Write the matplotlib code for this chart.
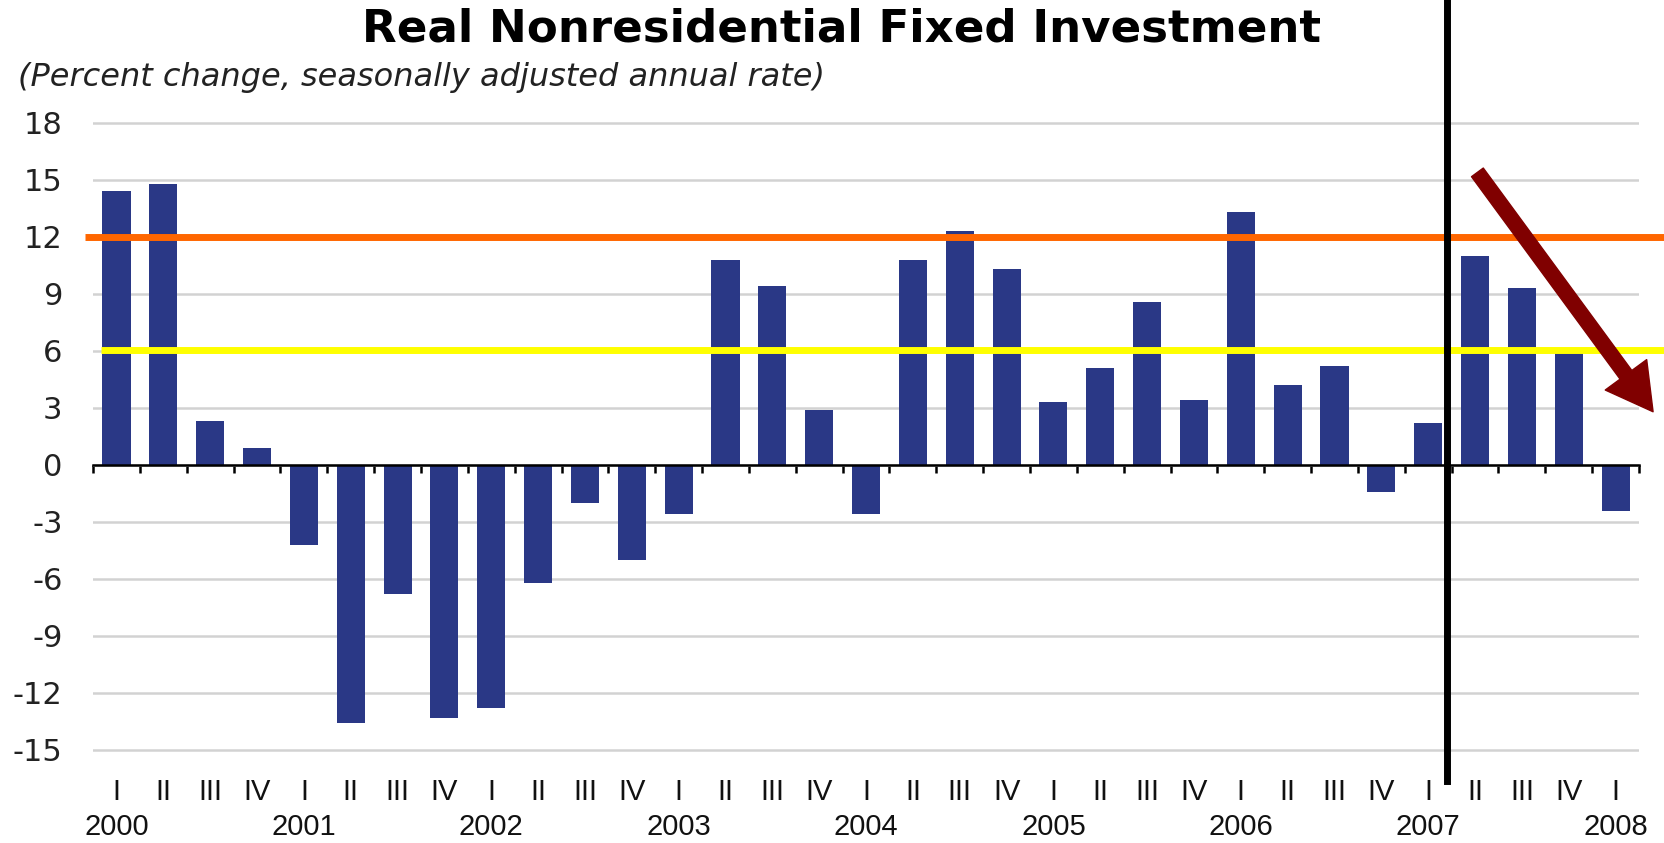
"""Real Nonresidential Fixed Investment, quarterly % change (SAAR), 2000-2008."""

import matplotlib
matplotlib.use("Agg")
import matplotlib.pyplot as plt
from matplotlib.transforms import blended_transform_factory

# quarterly values, 2000 Q1 .. 2008 Q1
quarters = ["I", "II", "III", "IV"] * 8 + ["I"]
years = ["2000", "2001", "2002", "2003", "2004", "2005", "2006", "2007", "2008"]
growth = [14.4, 14.8, 2.3, 0.9,
          -4.2, -13.6, -6.8, -13.3,
          -12.8, -6.2, -2.0, -5.0,
          -2.6, 10.8, 9.4, 2.9,
          -2.6, 10.8, 12.3, 10.3,
          3.3, 5.1, 8.6, 3.4,
          13.3, 4.2, 5.2, -1.4,
          2.2, 11.0, 9.3, 6.0,
          -2.4]

UPPER_REF = 12.0      # orange reference level
LOWER_REF = 6.05      # yellow reference level
BREAK_X = 28.4        # black divider after 2007 Q1
TREND_START = (29.05, 15.4)
TREND_END = (32.8, 2.8)

BAR_COLOR = "#2a3886"
NARROW = ["Liberation Sans Narrow", "Liberation Sans", "DejaVu Sans"]

plt.rcParams["axes.unicode_minus"] = False

fig = plt.figure(figsize=(16.65, 8.43), dpi=100)
ax = fig.add_axes([0.0559, 0.0991, 0.9285, 0.7663])

x = list(range(len(growth)))
ax.bar(x, growth, width=0.6, color=BAR_COLOR, zorder=2)

ax.set_xlim(-0.5, len(growth) - 0.5)
ax.set_ylim(-15.5, 18.5)

# y axis: labels only, light grid
ax.set_yticks(range(-15, 19, 3))
ax.tick_params(axis="y", length=0, pad=22, labelsize=22, labelcolor="#222222")
ax.grid(axis="y", color="#d2d2d2", lw=1.8)
ax.set_axisbelow(True)

for side in ("left", "right", "top"):
    ax.spines[side].set_visible(False)
ax.spines["bottom"].set_position(("data", 0))
ax.spines["bottom"].set_linewidth(1.8)
ax.spines["bottom"].set_zorder(3)
ax.set_xticks([i - 0.5 for i in range(len(growth) + 1)])
ax.set_xticklabels([])
ax.tick_params(axis="x", direction="out", length=6, width=1.8)

# category labels under the plot
trans = blended_transform_factory(ax.transData, fig.transFigure)
for i, q in enumerate(quarters):
    ax.text(i, 0.060, q, transform=trans, ha="center", va="center",
            fontsize=21, family=NARROW, color="#111111")
for k, yr in enumerate(years):
    ax.text(4 * k, 0.019, yr, transform=trans, ha="center", va="center",
            fontsize=21, family=NARROW, color="#111111")

# reference levels
ax.plot([-0.67, 33.1], [UPPER_REF, UPPER_REF], color="#ff6600", lw=5,
        solid_capstyle="butt", clip_on=False, zorder=4)
ax.plot([-0.33, 33.1], [LOWER_REF, LOWER_REF], color="#ffff00", lw=5,
        solid_capstyle="butt", clip_on=False, zorder=4)

# divider and trend arrow
ax.axvline(BREAK_X, ymin=-0.034, ymax=1.2, color="black", lw=5,
           clip_on=False, zorder=5)
ax.annotate("", xy=TREND_END, xytext=TREND_START, annotation_clip=False,
            arrowprops=dict(arrowstyle="simple,head_length=3.3,head_width=3.7,tail_width=1.05",
                            mutation_scale=10, color="#800000",
                            shrinkA=0, shrinkB=0), zorder=6)

fig.text(0.5057, 0.966, "Real Nonresidential Fixed Investment", ha="center",
         va="center", fontsize=32.5, fontweight="bold")
fig.text(0.0108, 0.908, "(Percent change, seasonally adjusted annual rate)",
         ha="left", va="center", fontsize=23, style="italic", color="#222222")

fig.savefig("out.png", dpi=100)
